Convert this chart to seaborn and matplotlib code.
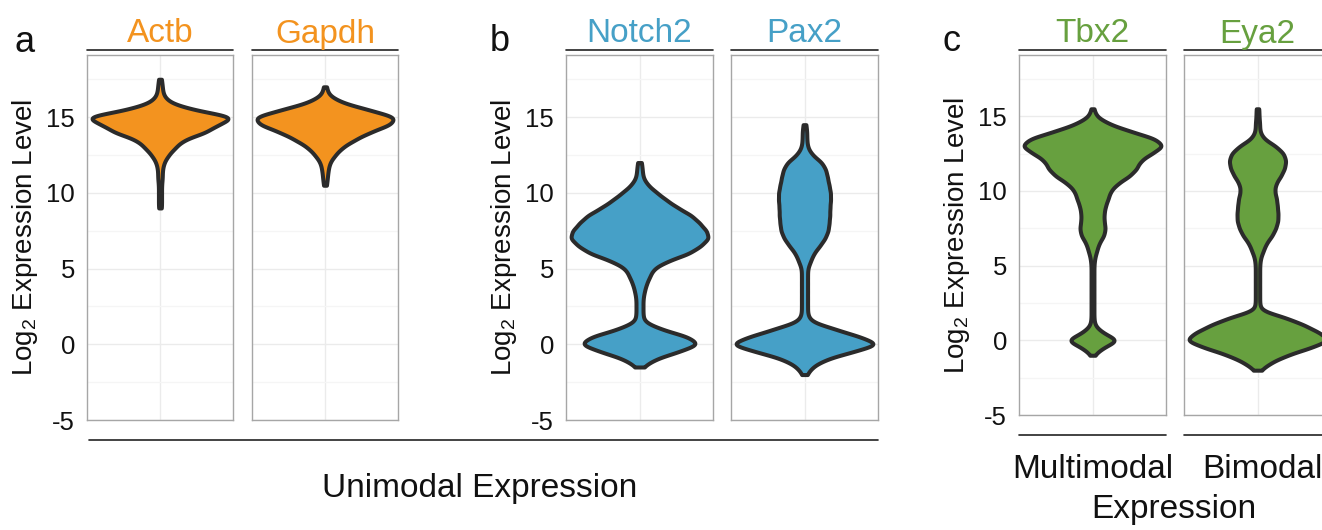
"""
유전자별 발현 분포 바이올린 플롯 (단봉 / 이봉 / 다봉 예시)
"""

import numpy as np
import pandas as pd
import matplotlib
matplotlib.use('Agg')
import matplotlib.pyplot as plt
from matplotlib.lines import Line2D
import seaborn as sns

# 그림에서 읽은 발현 수준(0.5 간격)과 각 수준의 세포 수(바이올린 폭에 비례)
actb_levels = [9.0, 9.5, 10.0, 10.5, 11.0, 11.5, 12.0, 12.5, 13.0, 13.5, 14.0, 14.5,
               15.0, 15.5, 16.0, 16.5, 17.0, 17.5]
actb_counts = [2, 2, 2, 2, 3, 3, 5, 11, 20, 30, 60, 74, 100, 40, 11, 4, 3, 2]

gapdh_levels = [10.5, 11.0, 11.5, 12.0, 12.5, 13.0, 13.5, 14.0, 14.5, 15.0, 15.5, 16.0,
                16.5, 17.0]
gapdh_counts = [2, 3, 4, 6, 13, 22, 38, 57, 84, 92, 54, 19, 4, 2]

notch2_levels = [-1.5, -1.0, -0.5, 0.0, 0.5, 1.0, 1.5, 2.0, 2.5, 3.0, 3.5, 4.0, 4.5, 5.0,
                 5.5, 6.0, 6.5, 7.0, 7.5, 8.0, 8.5, 9.0, 9.5, 10.0, 10.5, 11.0, 11.5, 12.0]
notch2_counts = [5, 21, 55, 87, 70, 30, 6, 5, 5, 5, 7, 10, 15, 20,
                 40, 72, 88, 100, 96, 86, 75, 55, 39, 25, 12, 5, 4, 3]

pax2_levels = [-2.0, -1.5, -1.0, -0.5, 0.0, 0.5, 1.0, 1.5, 2.0, 2.5, 3.0, 3.5, 4.0, 4.5,
               5.0, 5.5, 6.0, 6.5, 7.0, 7.5, 8.0, 8.5, 9.0, 9.5, 10.0, 10.5, 11.0, 11.5,
               12.0, 12.5, 13.0, 13.5, 14.0, 14.5]
pax2_counts = [3, 10, 27, 62, 100, 72, 40, 8, 4, 4, 4, 4, 4, 4,
               4, 8, 12, 20, 27, 31, 32, 33, 33, 34, 34, 32, 30, 28,
               23, 10, 4, 3, 3, 2]

tbx2_levels = [-1.0, -0.5, 0.0, 0.5, 1.0, 1.5, 2.0, 2.5, 3.0, 3.5, 4.0, 4.5, 5.0, 5.5,
               6.0, 6.5, 7.0, 7.5, 8.0, 8.5, 9.0, 9.5, 10.0, 10.5, 11.0, 11.5, 12.0,
               12.5, 13.0, 13.5, 14.0, 14.5, 15.0, 15.5]
tbx2_counts = [2, 14, 38, 14, 3, 2, 2, 2, 2, 2, 2, 2, 2, 3,
               6, 9, 16, 18, 16, 16, 18, 22, 25, 35, 52, 62, 66,
               82, 100, 88, 52, 22, 5, 2]

eya2_levels = [-2.0, -1.5, -1.0, -0.5, 0.0, 0.5, 1.0, 1.5, 2.0, 2.5, 3.0, 3.5, 4.0, 4.5,
               5.0, 5.5, 6.0, 6.5, 7.0, 7.5, 8.0, 8.5, 9.0, 9.5, 10.0, 10.5, 11.0, 11.5,
               12.0, 12.5, 13.0, 13.5, 14.0, 14.5, 15.0, 15.5]
eya2_counts = [4, 18, 40, 72, 100, 85, 65, 40, 4, 3, 3, 3, 3, 3,
               3, 4, 8, 12, 20, 25, 28, 28, 27, 26, 23, 25, 32, 37,
               39, 36, 25, 8, 3, 3, 2, 2]

genes = ['Actb', 'Gapdh', 'Notch2', 'Pax2', 'Tbx2', 'Eya2']
level_table = {
    'Actb': (actb_levels, actb_counts),
    'Gapdh': (gapdh_levels, gapdh_counts),
    'Notch2': (notch2_levels, notch2_counts),
    'Pax2': (pax2_levels, pax2_counts),
    'Tbx2': (tbx2_levels, tbx2_counts),
    'Eya2': (eya2_levels, eya2_counts),
}
y_ticks = [-5, 0, 5, 10, 15]
y_label = 'Log$_2$ Expression Level'

# 색상
orange = '#F3931F'
blue = '#46A0C7'
green = '#67A03F'
gene_colors = {'Actb': orange, 'Gapdh': orange, 'Notch2': blue, 'Pax2': blue,
               'Tbx2': green, 'Eya2': green}

# 긴 형식 데이터프레임
frames = []
for g in genes:
    lv, ct = level_table[g]
    frames.append(pd.DataFrame({'gene': g, 'expr': np.repeat(lv, ct)}))
df = pd.concat(frames, ignore_index=True)

sns.set_style('white')
plt.rcParams['font.family'] = ['Liberation Sans', 'DejaVu Sans']
plt.rcParams['axes.unicode_minus'] = False
plt.rcParams['mathtext.fontset'] = 'custom'
plt.rcParams['mathtext.rm'] = 'Liberation Sans'
plt.rcParams['mathtext.it'] = 'Liberation Sans:italic'
plt.rcParams['mathtext.bf'] = 'Liberation Sans:bold'

W, H = 1322, 530
fig = plt.figure(figsize=(W / 100, H / 100), dpi=100)


def box(l, t, r, b):
    return [l / W, 1 - b / H, (r - l) / W, (b - t) / H]


# 패널 위치 (픽셀: 왼쪽, 위, 오른쪽, 아래)
panel_px = {
    'Actb': (87, 55, 233, 420),
    'Gapdh': (252, 55, 398, 420),
    'Notch2': (566, 55, 713, 420),
    'Pax2': (731, 55, 878, 420),
    'Tbx2': (1019, 55, 1166, 415),
    'Eya2': (1184, 55, 1331, 415),
}
first_in_group = {'Actb', 'Notch2', 'Tbx2'}

for g in genes:
    l, t, r, b = panel_px[g]
    ax = fig.add_axes(box(l, t, r, b))
    sub = df[df['gene'] == g]
    bw = 0.3 / sub['expr'].std()
    sns.violinplot(
        data=sub, y='expr', ax=ax,
        color=gene_colors[g], saturation=1,
        linecolor='#2b2b2b', linewidth=2.9,
        inner=None, cut=0, density_norm='width', width=0.93,
        bw_method=bw, gridsize=300,
    )
    ax.set_xlim(-0.5, 0.5)
    ax.set_ylim(-5.0, 19.1)
    ax.set_xticks([0])
    ax.set_xticklabels([])
    ax.set_yticks(y_ticks)
    ax.set_yticks([-2.5, 2.5, 7.5, 12.5, 17.5], minor=True)
    ax.set_axisbelow(True)
    ax.grid(which='major', color='#ebebeb', linewidth=1.0)
    ax.grid(which='minor', axis='y', color='#f5f5f5', linewidth=0.9)
    ax.tick_params(axis='y', which='major', length=3, width=1, color='#333333',
                   labelsize=18.5, pad=5.5, labelcolor='#111111')
    ax.tick_params(axis='y', which='minor', length=0)
    ax.tick_params(axis='x', length=4, width=1, color='#333333')
    ax.set_xlabel('')
    if g in first_in_group:
        ax.set_ylabel(y_label, fontsize=20, color='#111111')
        ax.yaxis.set_label_coords(-0.32, 0.5)
    else:
        ax.set_ylabel('')
        ax.set_yticklabels([])
    for s in ax.spines.values():
        s.set_color('#a6a6a6')
        s.set_linewidth(1.0)

    # 스트립 제목과 밑줄
    ax.set_title(g, color=gene_colors[g], fontsize=24, pad=9)
    h = b - t
    ax.plot([0, 1], [1 + 5 / h, 1 + 5 / h], transform=ax.transAxes,
            color='#222222', lw=1.2, clip_on=False)
    if g in ('Tbx2', 'Eya2'):
        ax.plot([0, 1], [-20 / h, -20 / h], transform=ax.transAxes,
                color='#222222', lw=1.2, clip_on=False)

# a, b 공통 아래 선
fig.add_artist(Line2D([89 / W, 878 / W], [1 - 440 / H, 1 - 440 / H],
                      transform=fig.transFigure, color='#222222', lw=1.2))

# 패널 문자
for letter, x, y in [('a', 15, 52), ('b', 490, 51), ('c', 942, 51)]:
    fig.text(x / W, 1 - y / H, letter, fontsize=26, ha='left', va='baseline',
             color='#111111')

# 아래 라벨
fig.text(480 / W, 1 - 497 / H, 'Unimodal Expression', fontsize=24,
         ha='center', va='baseline', color='#111111')
fig.text(1092.5 / W, 1 - 478 / H, 'Multimodal', fontsize=24,
         ha='center', va='baseline', color='#111111')
fig.text(1262 / W, 1 - 478 / H, 'Bimodal', fontsize=24,
         ha='center', va='baseline', color='#111111')
fig.text(1174 / W, 1 - 518 / H, 'Expression', fontsize=24,
         ha='center', va='baseline', color='#111111')

fig.savefig('out.png', dpi=100)
plt.close(fig)
